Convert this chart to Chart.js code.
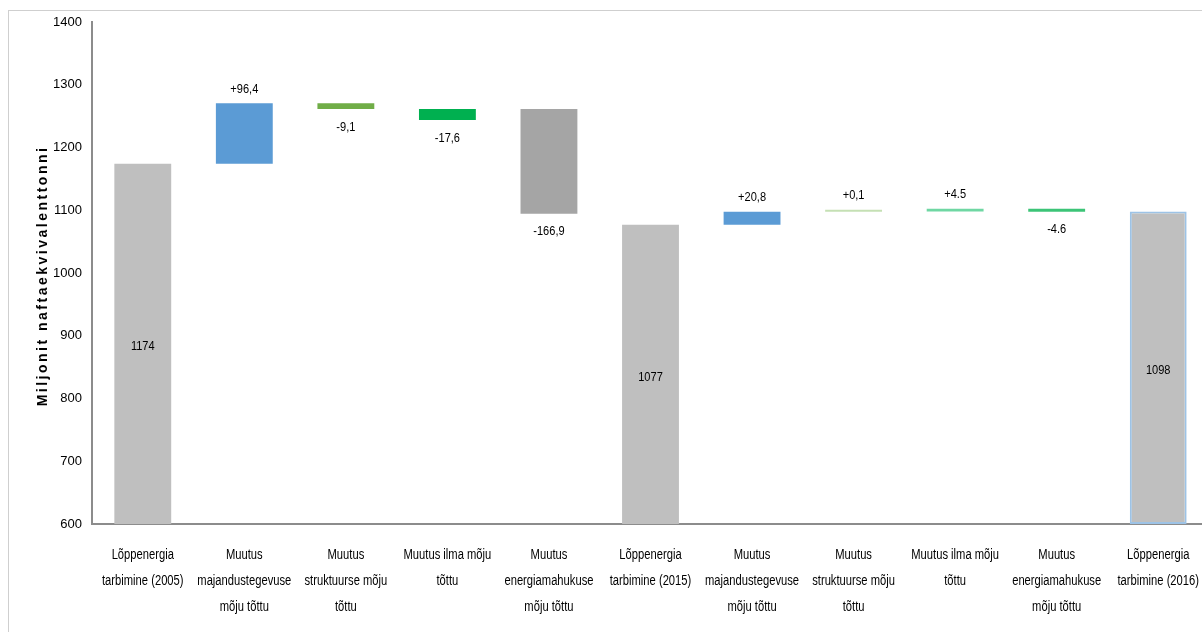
<!DOCTYPE html>
<html lang="et">
<head>
<meta charset="utf-8">
<title>Lõppenergia tarbimine</title>
<script src="https://cdn.jsdelivr.net/npm/chart.js@4/dist/chart.umd.min.js"></script>
<style>
  html, body { margin: 0; padding: 0; background: #fff; overflow: hidden; width: 1202px; height: 632px; }
  #frame { position: absolute; left: 8px; top: 10px; width: 1300px; height: 700px; border: 1px solid #cfcfcf; box-sizing: border-box; }
  #wrap { position: absolute; left: 0; top: 0; width: 1209px; height: 632px; }
</style>
</head>
<body>
<div id="frame"></div>
<div id="wrap"><canvas id="c"></canvas></div>
<script>
// Categories (lines of each axis label)
const categories = [
  ['Lõppenergia', 'tarbimine (2005)'],
  ['Muutus', 'majandustegevuse', 'mõju tõttu'],
  ['Muutus', 'struktuurse mõju', 'tõttu'],
  ['Muutus ilma mõju', 'tõttu'],
  ['Muutus', 'energiamahukuse', 'mõju tõttu'],
  ['Lõppenergia', 'tarbimine (2015)'],
  ['Muutus', 'majandustegevuse', 'mõju tõttu'],
  ['Muutus', 'struktuurse mõju', 'tõttu'],
  ['Muutus ilma mõju', 'tõttu'],
  ['Muutus', 'energiamahukuse', 'mõju tõttu'],
  ['Lõppenergia', 'tarbimine (2016)']
];

// 'total' bars stand on the axis; 'change' bars float from their starting level
const kinds = ['total', 'change', 'change', 'change', 'change', 'total', 'change', 'change', 'change', 'change', 'total'];

// Totals and changes (Mtoe)
const values = [1174, 96.4, -9.1, -17.6, -166.9, 1077, 20.8, 0.1, 4.5, -4.6, 1098];

// Level each change bar starts from
const startLevels = [600, 1174, 1270.4, 1261.3, 1261.3, 600, 1077, 1097.8, 1097.9, 1102.4, 600];

// Value labels as printed
const valueLabels = ['1174', '+96,4', '-9,1', '-17,6', '-166,9', '1077', '+20,8', '+0,1', '+4.5', '-4.6', '1098'];

// Y axis
const yMin = 600, yMax = 1400, yStep = 100;
const yTitle = 'Miljonit naftaekvivalenttonni';

const fills = ['#bfbfbf', '#5b9bd5', '#70ad47', '#00b050', '#a5a5a5', '#bfbfbf', '#5b9bd5', '#c5e0b4', '#6fd7a3', '#3cc477', '#bfbfbf'];
const borders = ['#bfbfbf', '#5b9bd5', '#70ad47', '#00b050', '#a5a5a5', '#bfbfbf', '#5b9bd5', '#c5e0b4', '#6fd7a3', '#3cc477', '#9dc3e6'];
const borderWidths = [0, 0, 0, 0, 0, 0, 0, 0, 0, 0, 2];

const FONT = "'Liberation Sans', Arial, sans-serif";

const barData = values.map((v, i) =>
  kinds[i] === 'total' ? [yMin, v] : [startLevels[i], startLevels[i] + v]
);

// Draws text squeezed horizontally to get a narrow face
function narrowText(ctx, text, x, y, squeeze) {
  ctx.save();
  ctx.translate(x, y);
  ctx.scale(squeeze, 1);
  ctx.fillText(text, 0, 0);
  ctx.restore();
}

const valueLabelPlugin = {
  id: 'valueLabels',
  afterDatasetsDraw(chart) {
    const ctx = chart.ctx;
    const meta = chart.getDatasetMeta(0);
    ctx.save();
    ctx.font = '13px ' + FONT;
    ctx.fillStyle = '#000';
    ctx.textAlign = 'center';
    ctx.textBaseline = 'middle';
    meta.data.forEach((el, i) => {
      const top = Math.min(el.y, el.base);
      const bottom = Math.max(el.y, el.base);
      let ty;
      if (kinds[i] === 'total') ty = (top + bottom) / 2 + 3;
      else if (values[i] >= 0) ty = top - 14;
      else ty = bottom + 18;
      narrowText(ctx, valueLabels[i], el.x, ty, 0.85);
    });
    ctx.restore();
  }
};

const categoryLabelPlugin = {
  id: 'categoryLabels',
  afterDraw(chart) {
    const ctx = chart.ctx;
    const xs = chart.scales.x;
    const area = chart.chartArea;
    ctx.save();
    ctx.font = '14px ' + FONT;
    ctx.fillStyle = '#000';
    ctx.textAlign = 'center';
    ctx.textBaseline = 'middle';
    categories.forEach((lines, i) => {
      const x = xs.getPixelForTick(i);
      lines.forEach((line, k) => {
        narrowText(ctx, line, x, area.bottom + 31 + k * 26, 0.8);
      });
    });
    ctx.restore();
  }
};

const yTitlePlugin = {
  id: 'yTitle',
  afterDraw(chart) {
    const ctx = chart.ctx;
    const area = chart.chartArea;
    ctx.save();
    ctx.translate(43, (area.top + area.bottom) / 2 + 3);
    ctx.rotate(-Math.PI / 2);
    ctx.font = 'bold 14px ' + FONT;
    ctx.letterSpacing = '2.5px';
    ctx.fillStyle = '#000';
    ctx.textAlign = 'center';
    ctx.textBaseline = 'middle';
    ctx.fillText(yTitle, 0, 0);
    ctx.restore();
  }
};

new Chart(document.getElementById('c'), {
  type: 'bar',
  data: {
    labels: categories.map(l => l.join(' ')),
    datasets: [{
      data: barData,
      backgroundColor: fills,
      borderColor: borders,
      borderWidth: borderWidths,
      borderSkipped: false,
      barPercentage: 0.56,
      categoryPercentage: 1.0,
      minBarLength: 2
    }]
  },
  options: {
    responsive: true,
    maintainAspectRatio: false,
    animation: false,
    layout: { padding: { top: 22, left: 0, right: 0, bottom: 0 } },
    plugins: {
      legend: { display: false },
      tooltip: { enabled: false }
    },
    scales: {
      x: {
        grid: { display: true, drawOnChartArea: false, drawTicks: false, color: 'transparent' },
        border: { display: true, color: '#8c8c8c', width: 2 },
        ticks: { display: false },
        afterFit(scale) { scale.height = 108; }
      },
      y: {
        min: yMin,
        max: yMax,
        grid: { display: true, drawOnChartArea: false, drawTicks: false, color: 'transparent' },
        border: { display: true, color: '#8c8c8c', width: 2 },
        ticks: {
          stepSize: yStep,
          color: '#000',
          font: { family: FONT, size: 13 },
          padding: 10,
          callback: v => String(v)
        },
        afterFit(scale) { scale.width = 92; }
      }
    }
  },
  plugins: [valueLabelPlugin, categoryLabelPlugin, yTitlePlugin]
});
</script>
</body>
</html>
